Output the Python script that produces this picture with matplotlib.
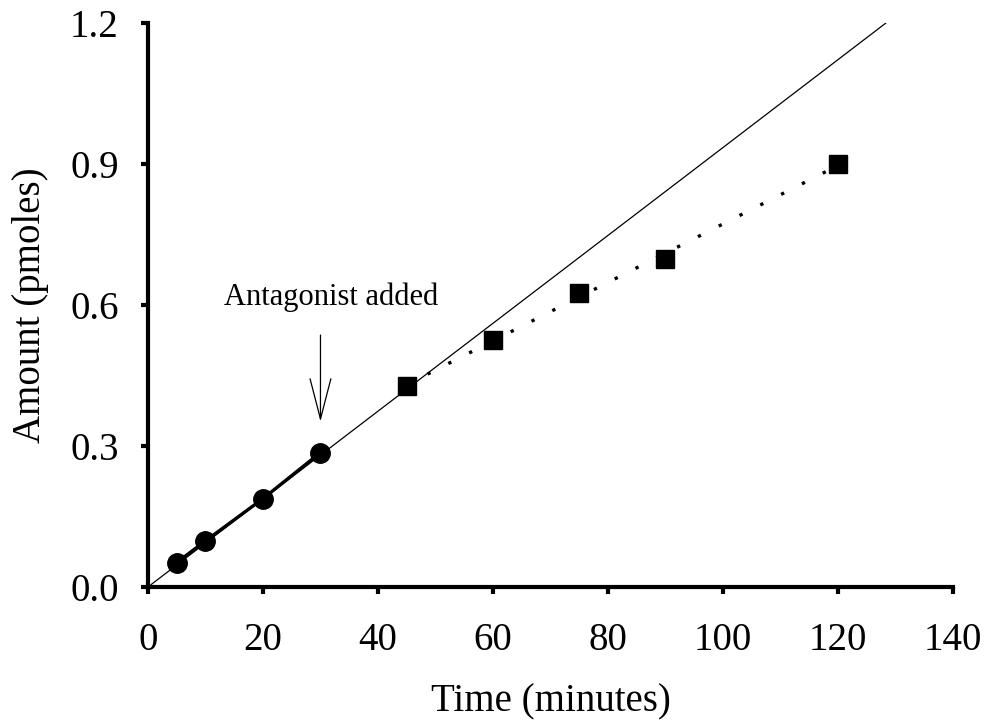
"""
Amount vs time, with antagonist added at 30 minutes.
"""

import numpy as np
import matplotlib.pyplot as plt

# before antagonist (circles) and after (squares)
time_before = [5, 10, 20, 30]
amount_before = [0.052, 0.098, 0.188, 0.286]
time_after = [45, 60, 75, 90, 120]
amount_after = [0.428, 0.526, 0.626, 0.698, 0.900]

# initial rate (pmoles/min), drawn from the origin out to extrap_end
initial_rate = 0.00935
extrap_end = 128.3
antagonist_time = 30

x_ticks = [0, 20, 40, 60, 80, 100, 120, 140]
y_ticks = [0.0, 0.3, 0.6, 0.9, 1.2]

plt.rcParams["font.family"] = ["Liberation Serif", "DejaVu Serif"]

fig = plt.figure(figsize=(9.89, 7.27), dpi=100)
ax = fig.add_axes([0.1496, 0.1926, 0.814, 0.7758])

# extrapolated initial rate
xs = np.array([0, extrap_end])
ax.plot(xs, initial_rate * xs, color="black", lw=0.9, zorder=2)

# fit after antagonist
p = np.polyfit(time_after, amount_after, 1)
xa = np.array([time_after[0], time_after[-1]])
ax.plot(xa, np.polyval(p, xa), color="black", lw=2.4, dashes=(1, 6), zorder=2)

ax.plot(time_before, amount_before, color="black", lw=2.4, marker="o",
        markersize=14, zorder=3)
ax.plot(time_after, amount_after, ls="none", color="black", marker="s",
        markersize=13, zorder=3)

ax.annotate("", xy=(antagonist_time, 0.352), xytext=(antagonist_time, 0.536),
            arrowprops=dict(arrowstyle="->,head_length=2.9,head_width=0.75",
                            mutation_scale=10, color="black", lw=0.9,
                            shrinkA=0, shrinkB=0))
ax.text(31.9, 0.617, "Antagonist added", ha="center", va="center", fontsize=22)

ax.set_xlim(0, 140)
ax.set_ylim(0, 1.2)
ax.set_xticks(x_ticks)
ax.set_yticks(y_ticks)
ax.set_yticklabels([f"{v:.1f}" for v in y_ticks])
ax.tick_params(labelsize=28, length=5, width=3, direction="out")
ax.tick_params(axis="x", pad=20)
ax.tick_params(axis="y", pad=16)

for side in ["top", "right"]:
    ax.spines[side].set_visible(False)
for side in ["left", "bottom"]:
    ax.spines[side].set_linewidth(3)

ax.set_xlabel("Time (minutes)", fontsize=28, labelpad=18)
ax.set_ylabel("Amount (pmoles)", fontsize=28, labelpad=15)

fig.savefig("out.png", dpi=100)
